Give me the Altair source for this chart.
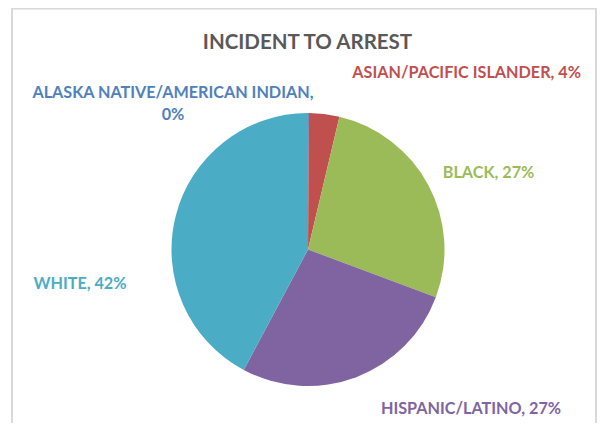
import altair as alt
import pandas as pd

# ---- data ----
categories = ["ALASKA NATIVE/AMERICAN INDIAN", "ASIAN/PACIFIC ISLANDER", "BLACK",
              "HISPANIC/LATINO", "WHITE"]
values = [0.1, 3.6, 27.0, 27.1, 42.2]          # percent of incidents
pct_labels = ["0%", "4%", "27%", "27%", "42%"]
colors = ["#4F81BD", "#C0504D", "#9BBB59", "#8064A2", "#4BACC6"]
title_text = "INCIDENT TO ARREST"

labels = [f"{c},\n{p}" if i == 0 else f"{c}, {p}"
          for i, (c, p) in enumerate(zip(categories, pct_labels))]

df = pd.DataFrame({"category": categories, "value": values,
                   "label": labels, "order": list(range(len(categories)))})

# ---- layout ----
W, H = 589, 415
CX, CY = 300, 241.5
PIE_R = 136.5
LABEL_R = 150
FONT = "Lato"
# per-label nudges (dx, dy) from the slice mid-angle point
label_offsets = [(-135.5, -6.5), (140.8, -27.6), (48.2, -5.4), (110, 19.5), (-82.5, 71.2)]

base = alt.Chart(df)

pie = base.mark_arc(radius=PIE_R).encode(
    theta=alt.Theta("value:Q", stack=True),
    color=alt.Color("category:N", scale=alt.Scale(domain=categories, range=colors), legend=None),
    order=alt.Order("order:Q", sort="ascending"),
    x=alt.value(CX), y=alt.value(CY),
)

mid = (base.transform_joinaggregate(total="sum(value)")
       .transform_window(cum="sum(value)", sort=[alt.SortField("order")], frame=[None, 0])
       .transform_calculate(mid="(datum.cum - datum.value/2) / datum.total * 2 * PI"))

label_layers = []
for i, (dx, dy) in enumerate(label_offsets):
    label_layers.append(
        mid.transform_filter(alt.datum.order == i).mark_text(
            radius=LABEL_R, dx=dx, dy=dy, font=FONT, fontSize=16.2, fontWeight="bold",
            color=colors[i], lineBreak="\n", align="center", baseline="middle", lineHeight=22,
        ).encode(
            theta=alt.Theta("mid:Q", scale=None, stack=False),
            text="label:N",
            x=alt.value(CX), y=alt.value(CY),
        )
    )

title = alt.Chart(pd.DataFrame({"t": [title_text]})).mark_text(
    font=FONT, fontSize=20.5, fontWeight="bold", color="#595959", align="center", baseline="middle"
).encode(text="t:N", x=alt.value(299.5), y=alt.value(35))

one = pd.DataFrame({"a": [0]})
border_style = dict(color="#D9D9D9", strokeWidth=2)
left = alt.Chart(one).mark_rule(**border_style).encode(x=alt.value(4), y=alt.value(0), y2=alt.value(H))
right = alt.Chart(one).mark_rule(**border_style).encode(x=alt.value(588), y=alt.value(0), y2=alt.value(H))
top = alt.Chart(one).mark_rule(**border_style).encode(x=alt.value(4), x2=alt.value(588), y=alt.value(0.5))

chart = alt.layer(left, right, top, pie, title, *label_layers).properties(
    width=W, height=H, padding=0, autosize=alt.AutoSizeParams(type="none"),
    background="white",
).configure_view(stroke="transparent")

chart.save("out.html", embed_options={"renderer": "svg", "actions": False})
